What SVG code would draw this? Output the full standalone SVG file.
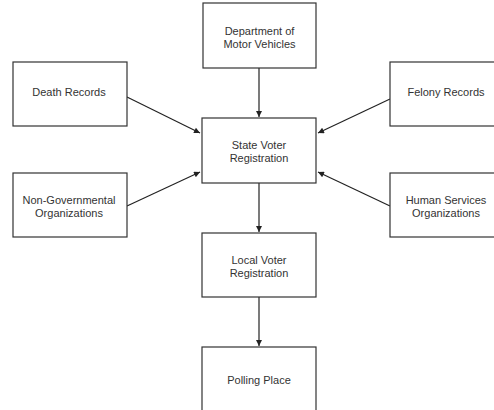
<svg xmlns="http://www.w3.org/2000/svg" width="494" height="410" viewBox="0 0 494 410">
<style>
.box{fill:#fff;stroke:#333;stroke-width:1.2}
.t{font-family:"Liberation Sans",Arial,sans-serif;font-size:11px;fill:#333;text-anchor:middle}
.c{stroke:#222;stroke-width:1.2;fill:none;marker-end:url(#ah)}
</style>
<defs>
<marker id="ah" viewBox="0 0 10 10" refX="10" refY="5" markerWidth="7" markerHeight="6" markerUnits="userSpaceOnUse" orient="auto">
<path d="M0,0 L10,5 L0,10 z" fill="#222"/>
</marker>
</defs>
<rect width="494" height="410" fill="#fff"/>
<g id="connectors">
<line class="c" x1="259" y1="68" x2="259" y2="117"/>
<line class="c" x1="127" y1="97" x2="200" y2="133"/>
<line class="c" x1="390" y1="99" x2="318" y2="133"/>
<line class="c" x1="127" y1="206" x2="200" y2="172"/>
<line class="c" x1="390" y1="206" x2="318" y2="172"/>
<line class="c" x1="259" y1="183" x2="259" y2="232"/>
<line class="c" x1="259" y1="297" x2="259" y2="346"/>
</g>
<g id="dmv">
<rect class="box" x="203" y="3" width="113" height="65"/>
<text class="t" x="259.5" y="35">Department of</text>
<text class="t" x="259.5" y="48">Motor Vehicles</text>
</g>
<g id="death">
<rect class="box" x="13" y="62" width="114" height="64"/>
<text class="t" x="69" y="96">Death Records</text>
</g>
<g id="felony">
<rect class="box" x="390" y="62" width="114" height="64"/>
<text class="t" x="446" y="96">Felony Records</text>
</g>
<g id="state">
<rect class="box" x="202" y="118" width="114" height="65"/>
<text class="t" x="259" y="149">State Voter</text>
<text class="t" x="259" y="162">Registration</text>
</g>
<g id="nongov">
<rect class="box" x="13" y="173" width="114" height="64"/>
<text class="t" x="69" y="204">Non-Governmental</text>
<text class="t" x="69" y="217">Organizations</text>
</g>
<g id="human">
<rect class="box" x="390" y="173" width="114" height="64"/>
<text class="t" x="446" y="204">Human Services</text>
<text class="t" x="446" y="217">Organizations</text>
</g>
<g id="local">
<rect class="box" x="202" y="233" width="114" height="64"/>
<text class="t" x="259" y="264">Local Voter</text>
<text class="t" x="259" y="277">Registration</text>
</g>
<g id="polling">
<rect class="box" x="202" y="347" width="114" height="65"/>
<text class="t" x="259" y="384">Polling Place</text>
</g>
</svg>
